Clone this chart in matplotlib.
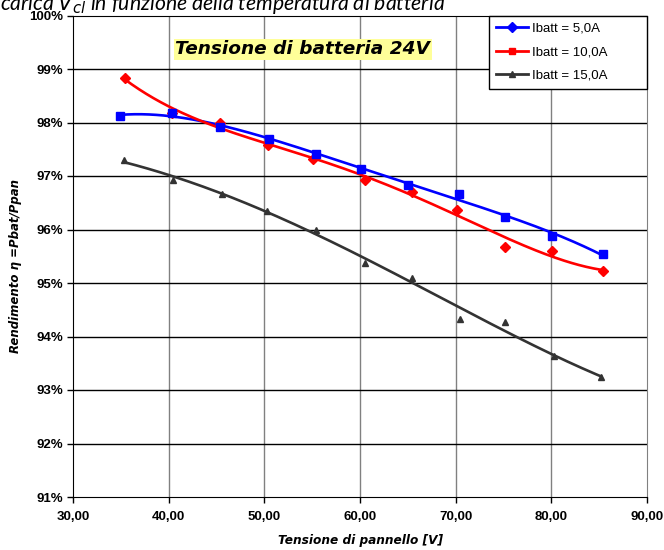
import numpy as np
import matplotlib
matplotlib.use("Agg")
import matplotlib.pyplot as plt
from matplotlib.lines import Line2D
from matplotlib.ticker import FuncFormatter, MultipleLocator

# tensione di pannello [V] e rendimento [%]
v_5a = [34.9, 40.4, 45.4, 50.5, 55.4, 60.1, 65.0, 70.3, 75.2, 80.1, 85.4]
eta_5a = [98.12, 98.17, 97.92, 97.70, 97.41, 97.13, 96.84, 96.66, 96.23, 95.88, 95.54]

v_10a = [35.4, 40.4, 45.4, 50.4, 55.1, 60.5, 65.4, 70.1, 75.2, 80.1, 85.4]
eta_10a = [98.83, 98.18, 98.00, 97.58, 97.31, 96.93, 96.71, 96.36, 95.67, 95.60, 95.22]

v_15a = [35.3, 40.5, 45.6, 50.3, 55.4, 60.5, 65.4, 70.5, 75.2, 80.3, 85.2]
eta_15a = [97.29, 96.93, 96.66, 96.35, 96.00, 95.37, 95.10, 94.32, 94.27, 93.63, 93.24]

labels = ['Ibatt = 5,0A', 'Ibatt = 10,0A', 'Ibatt = 15,0A']
colors = ['#0000FF', '#FF0000', '#333333']

fig = plt.figure(figsize=(6.64, 5.5), dpi=100)
ax = fig.add_axes([73/664, 1 - 497/550, (647 - 73)/664, (497 - 15.5)/550])

def trend(v, eta, color):
    # linea di tendenza polinomiale come in Excel
    p = np.polyfit(v, eta, 4)
    xx = np.linspace(min(v), max(v), 200)
    ax.plot(xx, np.polyval(p, xx), color=color, lw=1.9, zorder=3)

trend(v_5a, eta_5a, colors[0])
trend(v_10a, eta_10a, colors[1])
trend(v_15a, eta_15a, colors[2])

ax.plot(v_10a, eta_10a, 'D', color=colors[1], ms=5.5, ls='none', zorder=4)
ax.plot(v_5a, eta_5a, 's', color=colors[0], ms=5.5, ls='none', zorder=5)
ax.plot(v_15a, eta_15a, '^', color=colors[2], ms=4.2, ls='none', zorder=4)

ax.set_xlim(30, 90)
ax.set_ylim(91, 100)
ax.xaxis.set_major_locator(MultipleLocator(10))
ax.yaxis.set_major_locator(MultipleLocator(1))
ax.xaxis.set_major_formatter(FuncFormatter(lambda x, pos: f'{x:.2f}'.replace('.', ',')))
ax.yaxis.set_major_formatter(FuncFormatter(lambda y, pos: f'{y:.0f}%'))

for x in range(40, 90, 10):
    ax.axvline(x, color='#808080', lw=1, zorder=1)
for y in range(92, 100):
    ax.axhline(y, color='black', lw=1, zorder=1)

for s in ['left', 'bottom', 'top']:
    ax.spines[s].set_color('black')
ax.spines['right'].set_color('#808080')

ax.tick_params(direction='out', length=4, width=1, color='black')
for lab in ax.get_xticklabels() + ax.get_yticklabels():
    lab.set_family('Liberation Sans')
    lab.set_fontweight('bold')
    lab.set_fontsize(9.5)
ax.tick_params(axis='x', pad=6)
ax.tick_params(axis='y', pad=3)

ax.set_xlabel('Tensione di pannello [V]', family='DejaVu Sans', fontweight='bold',
              style='italic', fontsize=8.7, labelpad=8)
ax.set_ylabel('Rendimento η =Pbat/Ppan', family='DejaVu Sans', fontweight='bold',
              style='italic', fontsize=8.5)
ax.yaxis.set_label_coords(-0.088, 0.48)

ax.text(0.4, 0.93, 'Tensione di batteria 24V', transform=ax.transAxes,
        ha='center', va='center', family='DejaVu Sans', fontweight='bold',
        style='italic', fontsize=13.3, zorder=6,
        bbox=dict(boxstyle='square,pad=0.08', fc='#FFFF99', ec='none'))

handles = [Line2D([], [], color=colors[0], lw=2, marker='D', ms=5),
           Line2D([], [], color=colors[1], lw=2, marker='s', ms=5),
           Line2D([], [], color=colors[2], lw=2, marker='^', ms=5)]
leg = ax.legend(handles, labels, loc='upper left', bbox_to_anchor=(0.7247, 0, 0.2753, 1),
                mode='expand', borderaxespad=0, fancybox=False, framealpha=1,
                edgecolor='black', prop={'family': 'Liberation Sans', 'size': 9.5},
                handlelength=2.4, labelspacing=0.85, handletextpad=0.3,
                borderpad=0.55)
leg.get_frame().set_linewidth(1)
leg.set_zorder(7)

# didascalia del documento, tagliata in alto
fig.text(445/664, 1 - 10/550, 'di ricarica $V_{cl}$ in funzione della temperatura di batteria',
         ha='right', va='baseline', family='Lato', style='italic', fontsize=15.2)

fig.savefig('out.png', dpi=100)
